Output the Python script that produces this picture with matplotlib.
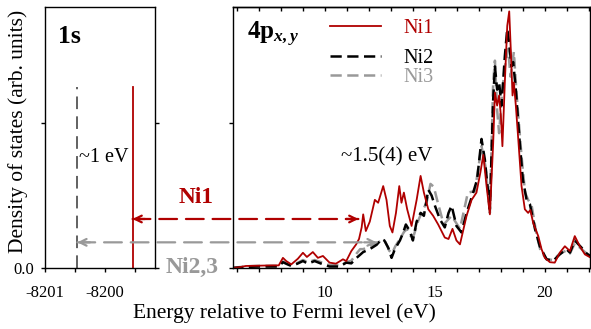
import matplotlib
matplotlib.use("Agg")
import matplotlib.pyplot as plt
from matplotlib.patches import ConnectionPatch
from matplotlib.ticker import MultipleLocator

plt.rcParams["font.family"] = ["Liberation Serif", "DejaVu Serif"]
plt.rcParams["axes.unicode_minus"] = False
plt.rcParams["mathtext.fontset"] = "custom"
plt.rcParams["mathtext.rm"] = "Liberation Serif"
plt.rcParams["mathtext.it"] = "Liberation Serif:italic"
plt.rcParams["mathtext.bf"] = "Liberation Serif:bold"
plt.rcParams["mathtext.bfit"] = "Liberation Serif:italic:bold"

RED, GRAY, DGRAY = "#b00000", "#999999", "#555555"

# ── data: 1s core levels (eV) ───────────────────────────────────────────────
E_1S_NI1 = -8199.54
E_1S_NI23 = -8200.46
H_1S = 1.25

# ── data: 4p_xy DOS, Ni1 ─────────────────────────────────────────────────────
E1 = [5.78, 6.1, 6.4, 7.0, 7.6, 7.9, 8.09, 8.24, 8.47, 8.77, 9.0, 9.18, 9.45, 9.68,
      9.91, 10.21, 10.5, 10.82, 10.97, 11.2, 11.42, 11.55, 11.67, 11.74, 11.86, 12.04,
      12.27, 12.42, 12.65, 12.8, 12.95, 13.07, 13.23, 13.38, 13.48, 13.59, 13.74, 13.94,
      14.17, 14.35, 14.5, 14.7, 14.92, 15.15, 15.45, 15.62, 15.8, 15.98, 16.14, 16.44,
      16.67, 16.89, 17.07, 17.2, 17.35, 17.5, 17.65, 17.73, 17.83, 17.92, 18.0, 18.07,
      18.18, 18.29, 18.38, 18.45, 18.53, 18.59, 18.68, 18.79, 18.94, 19.09, 19.24, 19.34,
      19.47, 19.7, 19.85, 20.0, 20.23, 20.45, 20.68, 20.91, 21.14, 21.36, 21.59, 21.82, 22.1]
D1 = [0.0, 0.005, 0.014, 0.016, 0.018, 0.018, 0.07, 0.048, 0.025, 0.064, 0.105, 0.076,
      0.11, 0.07, 0.083, 0.037, 0.03, 0.06, 0.048, 0.117, 0.163, 0.2, 0.28, 0.37, 0.255,
      0.32, 0.47, 0.45, 0.565, 0.47, 0.29, 0.245, 0.38, 0.565, 0.45, 0.52, 0.405, 0.29,
      0.47, 0.635, 0.52, 0.405, 0.36, 0.30, 0.21, 0.20, 0.27, 0.19, 0.163, 0.36, 0.47,
      0.52, 0.66, 0.78, 0.565, 0.37, 0.86, 1.21, 1.12, 1.19, 1.05, 0.84, 1.28, 1.67, 1.77,
      1.51, 1.19, 1.28, 1.12, 0.89, 0.565, 0.405, 0.38, 0.40, 0.31, 0.22, 0.13, 0.07, 0.04,
      0.037, 0.106, 0.15, 0.117, 0.22, 0.15, 0.094, 0.07]

# ── Ni2 ──────────────────────────────────────────────────────────────────────
E2 = [5.78, 6.1, 6.5, 7.0, 7.6, 7.9, 8.09, 8.3, 8.47, 8.75, 9.0, 9.23, 9.53, 9.83,
      10.21, 10.67, 10.97, 11.2, 11.44, 11.74, 12.04, 12.35, 12.58, 12.7, 12.88, 13.03,
      13.18, 13.41, 13.56, 13.68, 13.86, 14.0, 14.17, 14.35, 14.5, 14.7, 14.85, 15.0,
      15.23, 15.45, 15.62, 15.76, 15.98, 16.21, 16.44, 16.74, 16.92, 17.12, 17.27, 17.5,
      17.65, 17.73, 17.83, 17.92, 18.03, 18.18, 18.29, 18.38, 18.48, 18.56, 18.68, 18.86,
      19.0, 19.17, 19.32, 19.55, 19.77, 20.08, 20.38, 20.68, 20.98, 21.14, 21.36, 21.67,
      21.9, 22.1]
D2 = [0.0, 0.004, 0.008, 0.01, 0.01, 0.01, 0.04, 0.025, 0.014, 0.03, 0.048, 0.03, 0.048,
      0.03, 0.01, 0.01, 0.037, 0.032, 0.07, 0.11, 0.13, 0.16, 0.2, 0.19, 0.14, 0.07, 0.13,
      0.19, 0.245, 0.3, 0.255, 0.19, 0.32, 0.38, 0.36, 0.54, 0.5, 0.43, 0.335, 0.28, 0.38,
      0.43, 0.29, 0.245, 0.38, 0.52, 0.61, 0.89, 0.75, 0.405, 1.16, 1.39, 1.23, 1.28, 1.12,
      1.46, 1.65, 1.55, 1.39, 1.42, 1.23, 0.86, 0.61, 0.47, 0.44, 0.27, 0.15, 0.06, 0.05,
      0.094, 0.13, 0.106, 0.19, 0.14, 0.1, 0.08]

# ── Ni3 ──────────────────────────────────────────────────────────────────────
E3 = [5.78, 6.1, 6.5, 7.0, 7.6, 7.9, 8.09, 8.3, 8.47, 8.75, 9.0, 9.23, 9.53, 9.83,
      10.21, 10.67, 10.97, 11.2, 11.44, 11.6, 11.74, 12.04, 12.35, 12.58, 12.75, 12.92,
      13.05, 13.2, 13.41, 13.6, 13.75, 13.9, 14.05, 14.25, 14.45, 14.62, 14.8, 14.95,
      15.1, 15.4, 15.76, 16.14, 16.5, 16.82, 17.12, 17.3, 17.5, 17.65, 17.73, 17.83,
      17.92, 18.03, 18.18, 18.33, 18.44, 18.59, 18.71, 18.94, 19.1, 19.24, 19.4, 19.6,
      19.8, 20.08, 20.38, 20.68, 20.98, 21.14, 21.36, 21.67, 21.9, 22.1]
D3 = [0.0, 0.006, 0.012, 0.015, 0.015, 0.015, 0.045, 0.03, 0.02, 0.035, 0.055, 0.04,
      0.055, 0.04, 0.02, 0.018, 0.04, 0.05, 0.1, 0.13, 0.13, 0.15, 0.17, 0.19, 0.18, 0.12,
      0.1, 0.15, 0.2, 0.25, 0.27, 0.22, 0.23, 0.33, 0.4, 0.45, 0.58, 0.56, 0.47, 0.3, 0.36,
      0.27, 0.52, 0.53, 0.84, 0.7, 0.38, 1.28, 1.43, 1.09, 0.93, 1.16, 1.39, 1.51, 1.32,
      1.49, 1.21, 0.77, 0.52, 0.47, 0.43, 0.25, 0.12, 0.06, 0.055, 0.1, 0.12, 0.1, 0.17,
      0.13, 0.1, 0.08]

# arrow levels / ends
Y_ARR_NI1, X_ARR_NI1 = 0.338, 11.52
Y_ARR_NI23, X_ARR_NI23 = 0.177, 12.35

W, H = 591, 329
fig = plt.figure(figsize=(W / 100, H / 100), dpi=100)
ax1 = fig.add_axes([45 / W, 61 / H, 110 / W, 261 / H])
ax2 = fig.add_axes([233 / W, 61 / H, 356.5 / W, 261 / H])

# ── left panel: 1s ───────────────────────────────────────────────────────────
ax1.plot([E_1S_NI23, E_1S_NI23], [0, H_1S], color=DGRAY, lw=1.3, ls=(0, (7, 4)))
ax1.plot([E_1S_NI1, E_1S_NI1], [0, H_1S], color=RED, lw=1.3)
ax1.set_xlim(-8201, -8201 + 110 / 60)
ax1.set_ylim(0, 1.8)
ax1.set_xticks([-8201, -8200])
ax1.set_xticklabels(["-8201", "-8200"])
ax1.xaxis.set_minor_locator(MultipleLocator(0.5))
ax1.set_yticks([0, 1])
ax1.set_yticklabels(["0.0", ""])
ax1.tick_params(axis="both", which="both", direction="out", length=3, width=1,
                labelsize=12, right=True)
ax1.tick_params(axis="x", pad=9)
ax1.tick_params(axis="y", pad=5)
ax1.text(0.12, 0.862, "1s", transform=ax1.transAxes, fontsize=18.5,
         fontweight="bold", va="baseline")
ax1.text(E_1S_NI23 + 0.02, 0.76, "~1 eV", fontsize=14.5, va="center")

# ── right panel: 4p_xy ───────────────────────────────────────────────────────
l3, = ax2.plot(E3, D3, color=GRAY, lw=1.8, ls=(0, (4.5, 2.2)), label="Ni3")
l2, = ax2.plot(E2, D2, color="black", lw=1.8, ls=(0, (4.5, 2.2)), label="Ni2")
l1, = ax2.plot(E1, D1, color=RED, lw=1.3, label="Ni1")
ax2.set_xlim(5.82, 22.03)
ax2.set_ylim(0, 1.8)
ax2.set_xticks([10, 15, 20])
ax2.xaxis.set_minor_locator(MultipleLocator(1))
ax2.set_yticks([0, 1])
ax2.set_yticklabels(["", ""])
ax2.tick_params(axis="both", which="both", direction="out", length=3, width=1,
                labelsize=12, right=True)
ax2.tick_params(axis="x", pad=9)
top = ax2.secondary_xaxis("top")
top.set_xticks([10, 15, 20])
top.xaxis.set_minor_locator(MultipleLocator(1))
top.tick_params(axis="x", which="both", direction="in", length=3, width=1, labeltop=False)
ax2.text(0.039, 0.874, r"4p$_{\mathbfit{x,y}}$", transform=ax2.transAxes,
         fontsize=18, fontweight="bold", va="baseline")
ax2.text(12.83, 0.766, "~1.5(4) eV", fontsize=15, ha="center", va="center")

leg_kw = dict(loc="upper left", frameon=False, borderpad=0, borderaxespad=0,
              handlelength=2.55, handletextpad=1.1, fontsize=14.5, labelcolor="linecolor")
leg1 = ax2.legend(handles=[l1], bbox_to_anchor=(0.272, 0.956), **leg_kw)
ax2.add_artist(leg1)
ax2.legend(handles=[l2, l3], bbox_to_anchor=(0.272, 0.841), labelspacing=0.02, **leg_kw)

for ax in (ax1, ax2, top):
    for s in ax.spines.values():
        s.set_linewidth(1.0)

# ── arrows linking the two panels ────────────────────────────────────────────
def link(y, x_left, x_right, color):
    con = ConnectionPatch(xyA=(x_left, y), coordsA=ax1.transData,
                          xyB=(x_right, y), coordsB=ax2.transData,
                          color=color, lw=1.6, ls=(0, (8, 4)))
    fig.add_artist(con)
    ax1.annotate("", xy=(x_left, y), xytext=(9, 0), textcoords="offset points",
                 arrowprops=dict(arrowstyle="->", color=color, lw=1.6,
                                 shrinkA=0, shrinkB=0, mutation_scale=12))
    ax2.annotate("", xy=(x_right, y), xytext=(-9, 0), textcoords="offset points",
                 arrowprops=dict(arrowstyle="->", color=color, lw=1.6,
                                 shrinkA=0, shrinkB=0, mutation_scale=12))

link(Y_ARR_NI1, E_1S_NI1, X_ARR_NI1, RED)
link(Y_ARR_NI23, E_1S_NI23, X_ARR_NI23, GRAY)

fig.text(196 / W, 1 - 197 / H, "Ni1", color=RED, fontsize=16.8, fontweight="bold",
         ha="center", va="center")
fig.text(192 / W, 1 - 267 / H, "Ni2,3", color=GRAY, fontsize=17, fontweight="bold",
         ha="center", va="center")

fig.text(0.030, 0.600, "Density of states (arb. units)", rotation=90, fontsize=15.5,
         ha="center", va="center")
fig.text(0.482, 0.049, "Energy relative to Fermi level (eV)", fontsize=15.5,
         ha="center", va="center")

fig.savefig("out.png", dpi=100)
